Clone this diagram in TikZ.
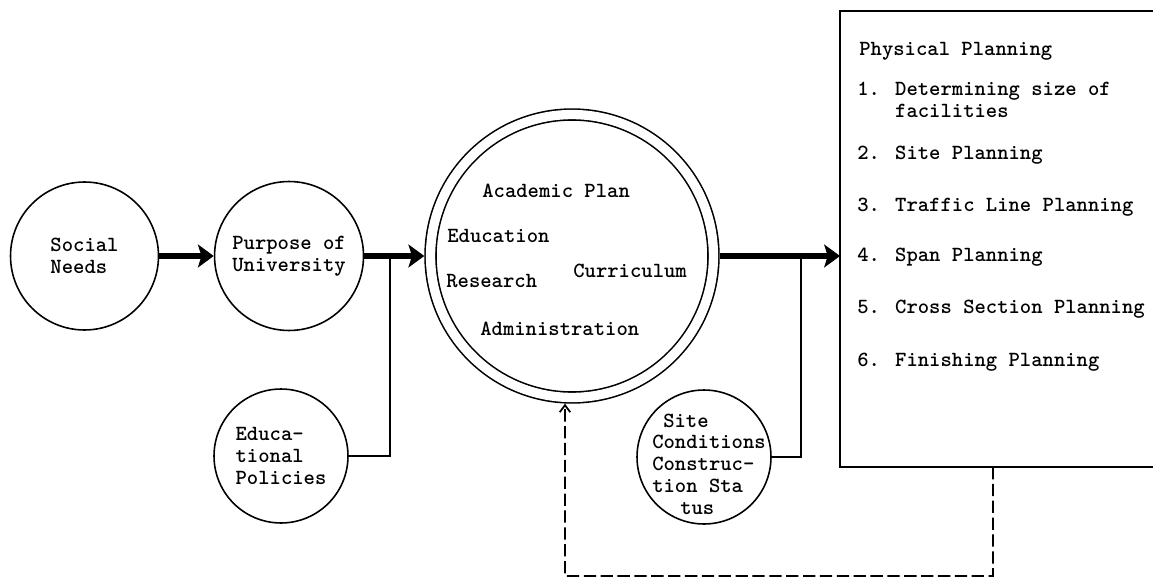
\documentclass[tikz,border=0pt]{standalone}
\usepackage{fontspec}
\usetikzlibrary{arrows.meta,positioning}

\begin{document}
\begin{tikzpicture}[x=0.02cm, y=-0.02cm,
   font=\ttfamily\bfseries\fontsize{12.3}{12.4}\selectfont,
   bubble/.style={circle,draw,line width=0.9pt,inner sep=0pt,align=left},
   lbl/.style={anchor=base west,inner sep=0pt},
   flow/.style={-{Stealth[length=9pt,width=13pt,inset=2pt]},line width=3.2pt},
   feed/.style={line width=0.9pt},
   back/.style={-{Straight Barb[length=4pt,width=6pt]},line width=1pt,dash pattern=on 7pt off 2.6pt}]
  \useasboundingbox (0,0) rectangle (1153,581);

  % inputs
  \node[bubble,minimum size=2.96cm] (social) at (84.5,256) {Social\\Needs};
  \node[bubble,minimum size=2.98cm,right=1.09cm of social] (purp) {Purpose of\\University};
  \node[bubble,minimum size=2.68cm] (policy) at (281,456) {Educa-\\tional\\Policies};

  % academic plan
  \node[circle,draw,line width=0.9pt,double,double distance=5.3pt,minimum size=5.66cm,outer sep=3.55pt] (acad) at (572,256) {};
  \node[lbl] (plan) at (482,197) {Academic Plan};
  \node[lbl] (educ) at (447,242) {Education};
  \node[lbl] (res) at (446,287) {Research};
  \node[lbl] (curr) at (573,277) {Curriculum};
  \node[lbl] (adm) at (480,335) {Administration};

  \node[bubble,minimum size=2.68cm] (site) at (704,457) {};
  \node[align=left,inner sep=0pt] (sitetxt) at ([shift={(5,7)}]site.center)
       {\hspace*{0.22cm}Site\\Conditions\\Construc-\\tion Sta\\\hspace*{0.56cm}tus};

  % physical planning
  \node[minimum width=6.26cm,minimum height=9.12cm,inner sep=0pt,outer sep=0pt] (phys) at (996.5,239) {};
  \draw[line width=0.9pt] (phys.north east) -- (phys.north west) -- (phys.south west) -- (phys.south east);
  \node[lbl] (p0) at (859,56) {Physical Planning};
  \node[lbl,align=left] (p1) at (857,117) {1. Determining size of\\\hphantom{1. }facilities};
  \node[lbl] (p2) at (857,159) {2. Site Planning};
  \node[lbl] (p3) at (857,211) {3. Traffic Line Planning};
  \node[lbl] (p4) at (857,261) {4. Span Planning};
  \node[lbl] (p5) at (857,313) {5. Cross Section Planning};
  \node[lbl] (p6) at (857,366) {6. Finishing Planning};

  % connectors
  \coordinate (j1) at (390,256);
  \coordinate (j2) at (801,256);
  \coordinate (bend) at (565,576);
  \draw[feed] (policy.east) -| (j1);
  \draw[feed] (site.east) -| (j2);
  \draw[flow] (social) -- (purp);
  \draw[flow] (purp) -- (acad);
  \draw[flow] (acad.east) -- (acad.east -| phys.west);
  \draw[back] ([xshift=3.06cm]phys.south west) |- (bend) -- ([xshift=-0.14cm]acad.south);
\end{tikzpicture}
\end{document}
